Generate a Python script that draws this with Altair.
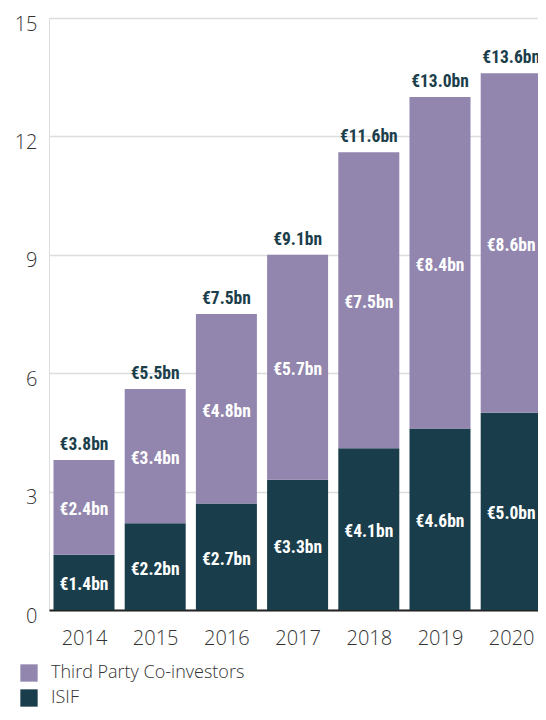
import altair as alt
import pandas as pd

years = [2014, 2015, 2016, 2017, 2018, 2019, 2020]
isif = [1.4, 2.2, 2.7, 3.3, 4.1, 4.6, 5.0]
third = [2.4, 3.4, 4.8, 5.7, 7.5, 8.4, 8.6]
isif_labels = ["€1.4bn", "€2.2bn", "€2.7bn", "€3.3bn", "€4.1bn", "€4.6bn", "€5.0bn"]
third_labels = ["€2.4bn", "€3.4bn", "€4.8bn", "€5.7bn", "€7.5bn", "€8.4bn", "€8.6bn"]
total_labels = ["€3.8bn", "€5.5bn", "€7.5bn", "€9.1bn", "€11.6bn", "€13.0bn", "€13.6bn"]
series_names = ["Third Party Co-investors", "ISIF"]
y_ticks = [0, 3, 6, 9, 12, 15]

PURPLE = "#9285ae"
DARK = "#193d4a"
LABEL_FONT = "'Roboto Condensed', Roboto, sans-serif"
AXIS_FONT = "Open Sans"

rows = []
for i, yr in enumerate(years):
    rows.append({"year": yr, "series": "ISIF", "value": isif[i], "ord": 0, "label": isif_labels[i]})
    rows.append({"year": yr, "series": "Third Party Co-investors", "value": third[i], "ord": 1, "label": third_labels[i]})
df = pd.DataFrame(rows)

tot = pd.DataFrame({
    "year": years,
    "total": [a + b for a, b in zip(isif, third)],
    "label": total_labels,
})

xscale = alt.Scale(domain=[2013.5084, 2020.3764], nice=False, zero=False, padding=0)
yscale = alt.Scale(domain=[0, 15], nice=False, padding=0)

x_enc = alt.X("year:Q", scale=xscale, title=None,
              axis=alt.Axis(values=years, format="d", ticks=False, tickSize=0, grid=False,
                            labelFontSize=20, labelFont=AXIS_FONT, labelFontWeight=300,
                            labelColor="#333333", labelPadding=18, labelFlush=False,
                            domainColor="#222222", domainWidth=2))

bars = alt.Chart(df).mark_bar(size=61, clip=True).encode(
    x=x_enc,
    y=alt.Y("value:Q", stack="zero", scale=yscale, title=None,
            axis=alt.Axis(values=y_ticks, ticks=False, tickSize=0, domain=False,
                          gridColor="#dcdcdc", gridWidth=1.5,
                          labelFontSize=20, labelFont=AXIS_FONT, labelFontWeight=300,
                          labelColor="#333333", labelPadding=12, labelOffset=6,
                          labelFlush=False)),
    color=alt.Color("series:N",
                    scale=alt.Scale(domain=series_names, range=[PURPLE, DARK]),
                    legend=alt.Legend(title=None, orient="none", legendX=-29, legendY=646,
                                      symbolType="square", symbolSize=300,
                                      symbolStrokeWidth=0, labelFontSize=18,
                                      labelFont=AXIS_FONT, labelFontWeight=300,
                                      labelColor="#333333", rowPadding=7,
                                      labelOffset=13, padding=0, labelLimit=0)),
    order=alt.Order("ord:Q"),
)

seg_text = alt.Chart(df).transform_stack(
    stack="value", groupby=["year"], as_=["v0", "v1"], sort=[alt.SortField("ord")]
).transform_calculate(
    mid="(datum.v0 + datum.v1) / 2"
).mark_text(color="white", font=LABEL_FONT, fontWeight="bold", fontSize=17.5,
            baseline="middle", dy=3, clip=True).encode(
    x=alt.X("year:Q", scale=xscale),
    y=alt.Y("mid:Q", scale=yscale),
    text="label:N",
)

tot_text = alt.Chart(tot).mark_text(color="#1b3e4b", font=LABEL_FONT, fontWeight="bold",
                                    fontSize=17.5, baseline="alphabetic", dy=-10,
                                    clip=True).encode(
    x=alt.X("year:Q", scale=xscale),
    y=alt.Y("total:Q", scale=yscale),
    text="label:N",
)

chart = alt.layer(bars, seg_text, tot_text).properties(
    width=489, height=592,
    autosize=alt.AutoSizeParams(type="none"),
    padding={"left": 41, "top": 10, "right": 0, "bottom": 101},
).configure_view(stroke=None).configure(background="white")

chart.save("out.html", embed_options={"renderer": "svg", "actions": False})
